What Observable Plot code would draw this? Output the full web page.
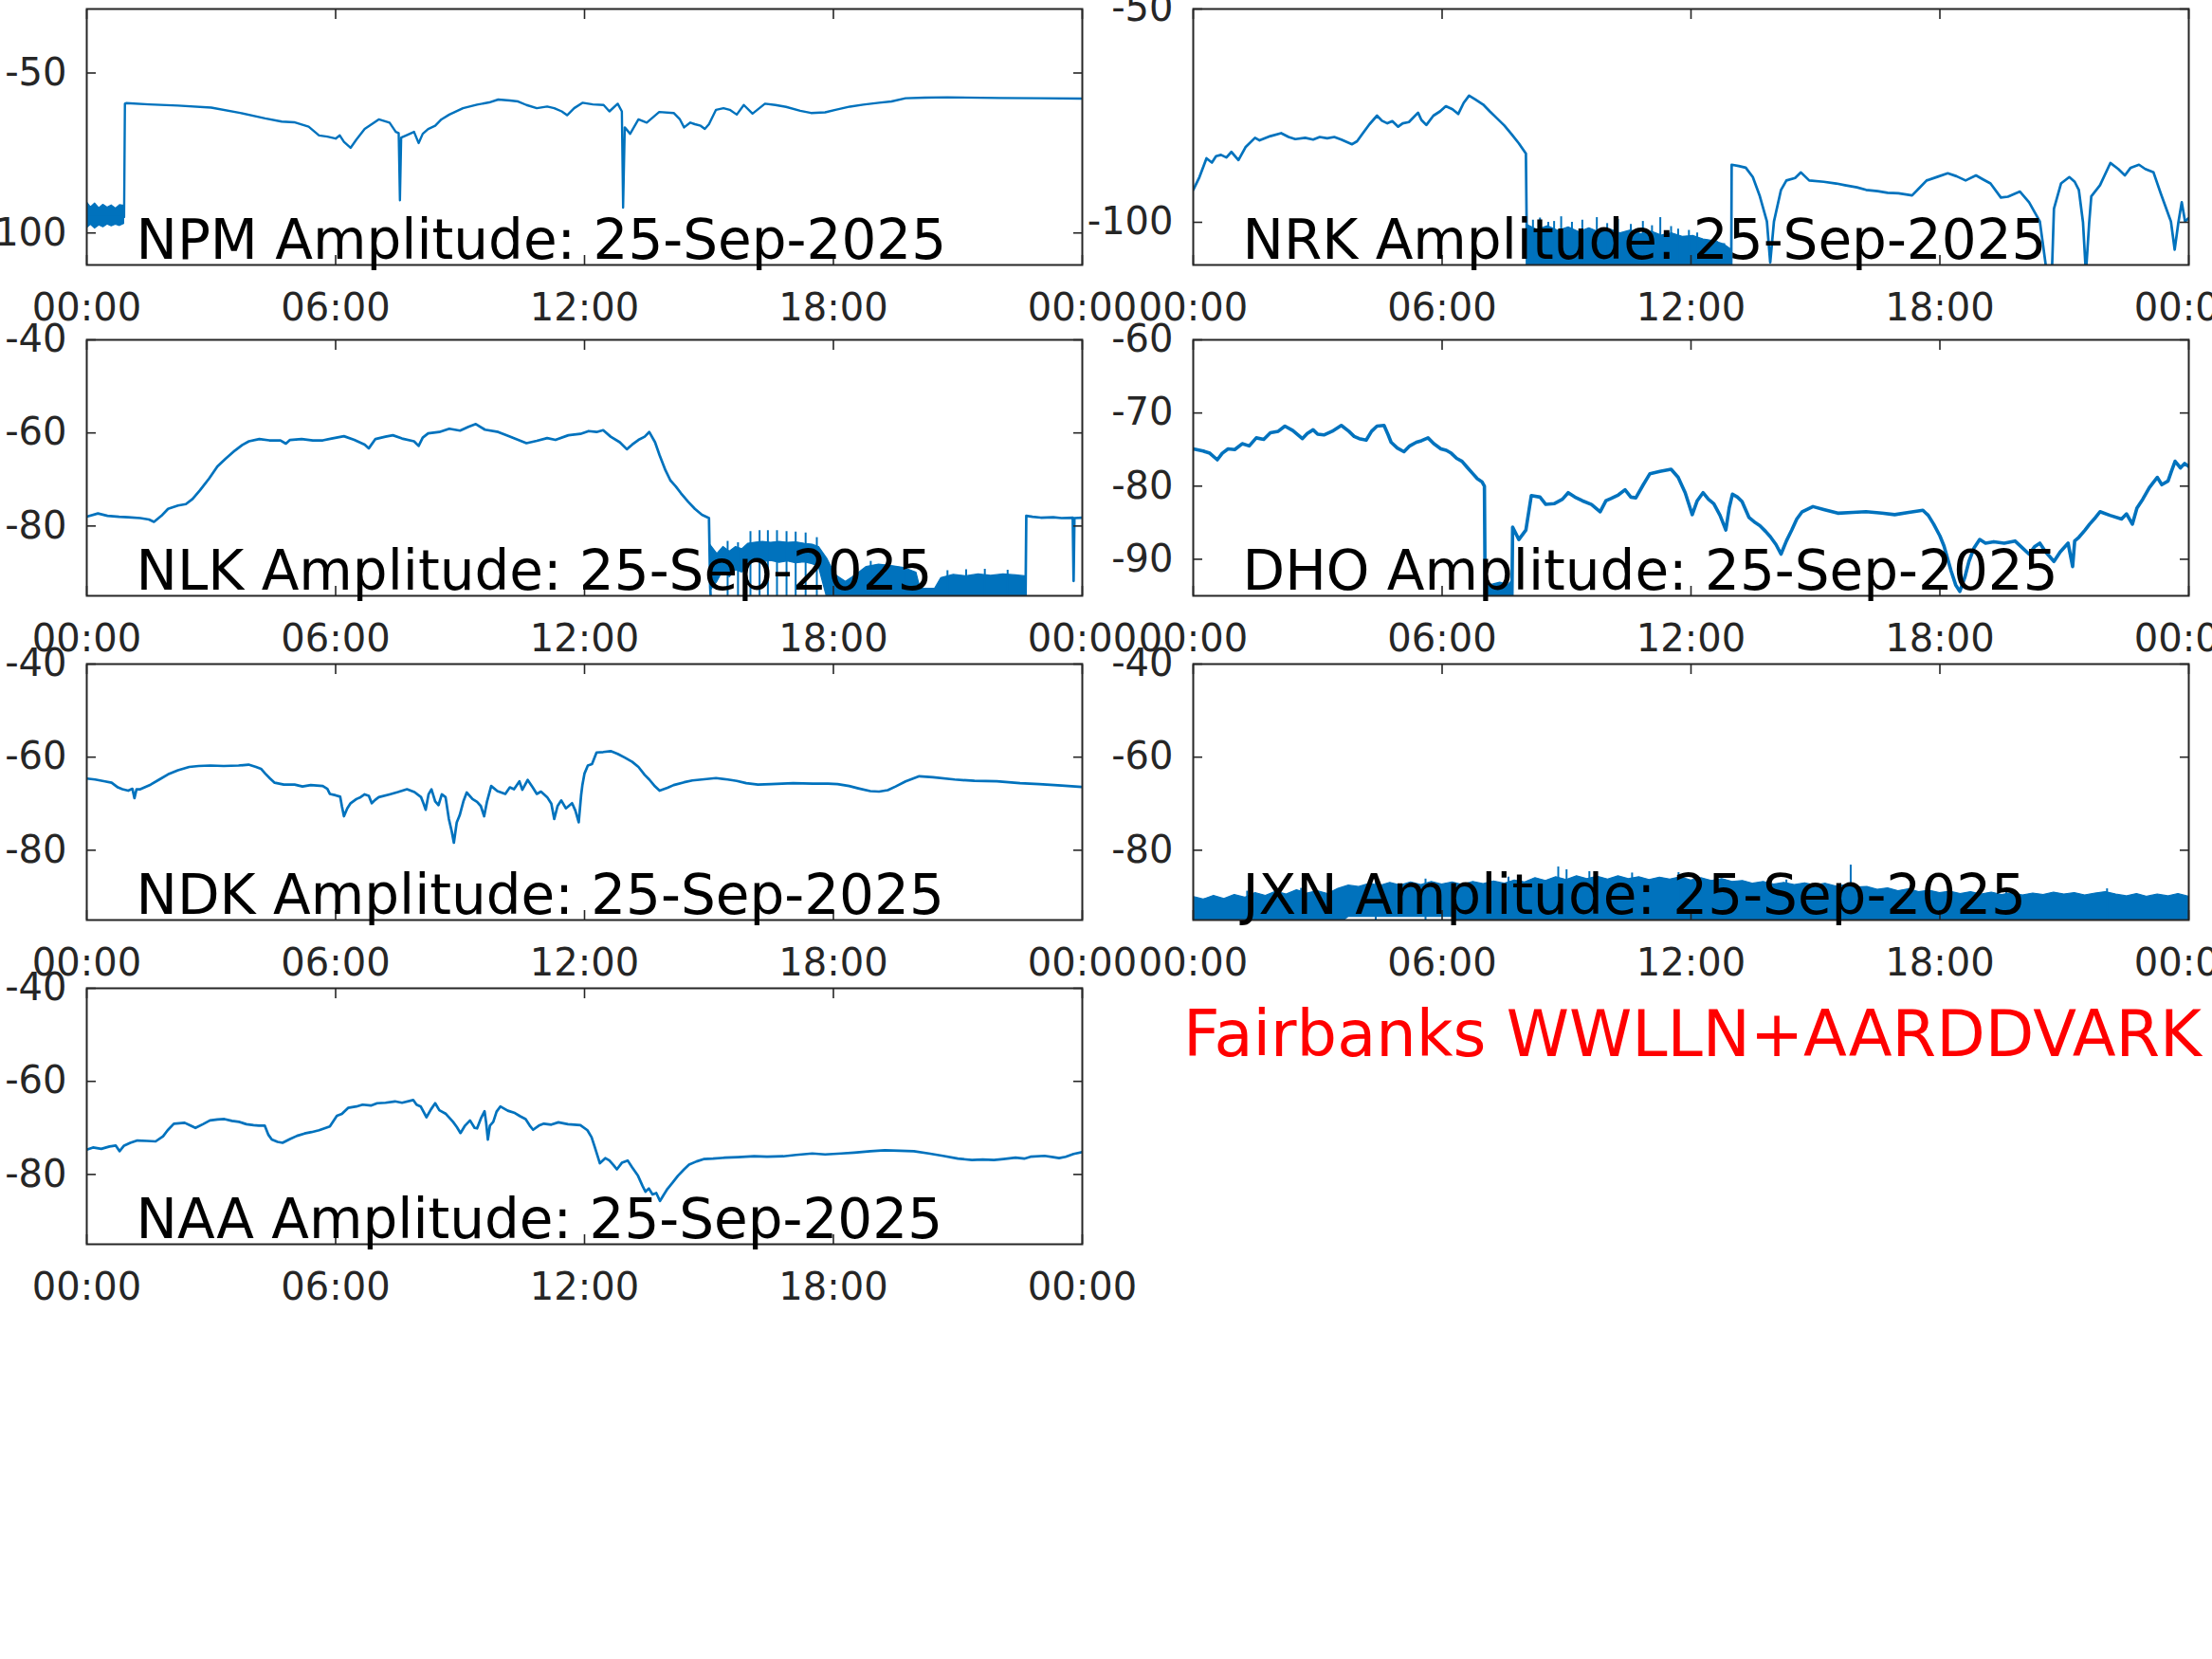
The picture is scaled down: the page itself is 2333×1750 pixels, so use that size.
<!DOCTYPE html>
<html>
<head>
<meta charset="utf-8">
<script src="https://cdn.jsdelivr.net/npm/d3@7"></script>
<script src="https://cdn.jsdelivr.net/npm/@observablehq/plot@0.6"></script>
<style>
html, body { margin: 0; padding: 0; background: #fff; }
#fig { position: relative; width: 2333px; height: 1750px; overflow: hidden; background: #fff; font-family: "DejaVu Sans"; }
</style>
</head>
<body>
<div id="fig"></div>
<script>
// ---------------- DATA ----------------
const xTickHours = [0, 6, 12, 18, 24];
const xTickLabels = ["00:00", "06:00", "12:00", "18:00", "00:00"];
const dateLabel = "25-Sep-2025";
const figureNote = "Fairbanks WWLLN+AARDDVARK";

// NPM
const npmHours = [0,0.9,0.92,0.95,1.5,2.2,3.0,3.7,4.3,4.7,5.0,5.35,5.6,5.8,6.0,6.1,6.2,6.36,6.5,6.7,7.04,7.3,7.45,7.52,7.55,7.58,7.7,7.89,8.0,8.1,8.23,8.4,8.55,8.74,9.07,9.41,9.7,9.92,10.2,10.4,10.6,10.85,11.1,11.27,11.45,11.58,11.75,11.95,12.2,12.46,12.6,12.8,12.9,12.93,12.97,13.1,13.3,13.5,13.8,14.15,14.3,14.4,14.55,14.66,14.8,14.9,15.0,15.17,15.35,15.5,15.67,15.84,16.05,16.35,16.6,16.86,17.2,17.46,17.8,18.05,18.4,18.72,19.1,19.4,19.74,20.2,20.75,22,23,24];
const npmAmp = [-95,-95,-59.6,-59.4,-59.8,-60.2,-60.8,-62.5,-64.2,-65.2,-65.4,-66.8,-69.5,-69.9,-70.5,-69.5,-71.5,-73.4,-70.8,-67.5,-64.5,-65.5,-68.4,-68.8,-89.8,-70.2,-69.5,-68.4,-71.9,-69,-67.5,-66.5,-64.5,-63,-61,-59.9,-59.2,-58.3,-58.6,-58.9,-60,-61,-60.5,-61,-62,-63.2,-61,-59.3,-59.8,-60,-62,-59.6,-62,-92.1,-67,-69,-64.5,-65.5,-62.2,-62.5,-64.5,-67,-65.5,-66,-66.5,-67.5,-66,-61.5,-61,-61.5,-63,-60,-62.7,-59.6,-60,-60.6,-61.8,-62.5,-62.3,-61.5,-60.5,-59.9,-59.3,-58.9,-57.9,-57.7,-57.6,-57.8,-57.9,-58];
const npmBandHours = [0,0.1,0.2,0.3,0.4,0.5,0.6,0.7,0.8,0.9];
const npmBandHi = [-90.3,-92,-90.8,-92.3,-91.2,-92.1,-91.4,-92.4,-91.3,-91.5];
const npmBandLo = [-98.5,-97.4,-98.6,-97.6,-98.2,-97.3,-97.9,-97.4,-97.8,-97.2];

// NRK
const nrkHours = [0,0.15,0.32,0.45,0.55,0.67,0.8,0.92,1.09,1.26,1.49,1.6,1.86,2.12,2.3,2.46,2.7,2.89,3.05,3.23,3.4,3.57,3.83,3.95,4.09,4.25,4.43,4.55,4.68,4.8,4.94,5.05,5.2,5.42,5.5,5.62,5.79,5.95,6.09,6.25,6.39,6.52,6.65,6.8,6.99,7.15,7.33,7.5,7.68,7.85,8.02,8.05,12.97,12.98,13.15,13.32,13.49,13.66,13.83,13.91,14.0,14.17,14.3,14.51,14.65,14.85,15.2,15.5,15.71,16.0,16.22,16.5,16.74,17.0,17.33,17.5,17.68,17.95,18.19,18.4,18.62,18.87,19.05,19.22,19.47,19.64,19.93,20.15,20.41,20.58,20.7,20.75,20.92,21.12,21.25,21.35,21.45,21.52,21.6,21.65,21.86,22.11,22.3,22.46,22.6,22.8,22.95,23.15,23.32,23.57,23.66,23.75,23.83,23.91,24];
const nrkAmp = [-92.4,-89.4,-85,-86,-84.5,-84.2,-84.8,-83.5,-85.4,-82.4,-80.2,-80.8,-79.8,-79.1,-80,-80.5,-80.2,-80.6,-80,-80.3,-80,-80.6,-81.7,-81,-79.1,-77,-75,-76.2,-76.8,-76.3,-77.6,-76.8,-76.5,-74.3,-76,-77.2,-75,-74,-72.8,-73.5,-74.6,-72,-70.3,-71.2,-72.4,-74,-75.7,-77.3,-79.4,-81.5,-83.9,-112,-112,-86.5,-86.8,-87.2,-89.4,-93.9,-99.8,-109.4,-99.8,-92.4,-90.2,-89.6,-88.3,-90.2,-90.5,-90.9,-91.3,-91.8,-92.4,-92.7,-93.1,-93.2,-93.7,-92,-90.2,-89.3,-88.5,-89.2,-90.2,-89,-90,-90.9,-94.2,-94,-92.8,-95.3,-99.8,-112,-112,-96.8,-90.9,-89.4,-90.5,-92.4,-100,-112,-100,-93.9,-91.3,-86.1,-87.5,-89,-87.2,-86.5,-87.5,-88.3,-93.1,-99.8,-106.4,-100,-95.3,-99.8,-99];
const nrkBandHours = [8.05,8.3,8.55,8.8,9.05,9.3,9.55,9.8,10.05,10.3,10.55,10.8,11.05,11.3,11.55,11.8,12.05,12.3,12.55,12.8,12.97];
const nrkBandHi = [-100.6,-101.8,-100.9,-102,-101.2,-102.3,-101.4,-102.4,-101.6,-102.6,-101.9,-102.8,-102.2,-103.1,-102.6,-103.4,-103.2,-104,-104.4,-105.2,-106.4];
const nrkBandLo = [-112,-112,-112,-112,-112,-112,-112,-112,-112,-112,-112,-112,-112,-112,-112,-112,-112,-112,-112,-112,-112];
const nrkSpikeHours = [8.19,8.36,8.56,8.7,8.87,9.13,9.38,9.73,9.98,10.24,10.55,10.84,11.06,11.26,11.52,11.69,11.95,12.15,12.38,12.63,12.8];
const nrkSpikeTop = [-99.5,-99,-100,-99.8,-98.7,-100,-99.5,-98.9,-100.3,-99.3,-100.5,-99.8,-100.8,-98.9,-101,-101.6,-101.9,-102.5,-104.2,-104.5,-105];

// NLK
const nlkHours = [0,0.27,0.5,0.78,1.0,1.29,1.5,1.62,1.8,1.96,2.2,2.39,2.55,2.73,2.95,3.15,3.35,3.57,3.75,3.91,4.16,4.4,4.67,4.8,4.9,5.18,5.45,5.69,5.9,6.2,6.45,6.7,6.8,6.96,7.2,7.38,7.6,7.89,8.0,8.1,8.23,8.5,8.74,9.0,9.2,9.38,9.6,9.92,10.2,10.4,10.6,10.85,11.1,11.3,11.61,11.9,12.1,12.29,12.45,12.63,12.85,13.02,13.15,13.3,13.45,13.56,13.7,13.81,13.95,14.07,14.2,14.32,14.5,14.66,14.83,15.0,15.03,15.05,22.63,22.65,22.8,23.0,23.3,23.5,23.77,23.79,23.81,24];
const nlkAmp = [-78,-77.3,-77.8,-78,-78.1,-78.3,-78.6,-79.1,-77.8,-76.3,-75.6,-75.3,-74.2,-72.3,-69.8,-67.2,-65.5,-63.8,-62.6,-61.8,-61.3,-61.6,-61.6,-62.3,-61.5,-61.3,-61.6,-61.6,-61.2,-60.7,-61.5,-62.5,-63.3,-61.3,-60.8,-60.5,-61.2,-61.8,-62.8,-61,-60.1,-59.8,-59.1,-59.5,-58.7,-58.1,-59.3,-59.8,-60.8,-61.5,-62.2,-61.7,-61.1,-61.5,-60.5,-60.2,-59.6,-59.8,-59.4,-60.8,-62,-63.5,-62.5,-61.5,-60.8,-59.8,-62,-64.8,-68,-70.2,-71.5,-72.9,-74.8,-76.3,-77.6,-78.3,-93,-97,-97,-77.8,-78,-78.2,-78.1,-78.3,-78.2,-91.8,-78.3,-78.2];
const nlkBandHours = [15.03,15.2,15.35,15.5,15.65,15.8,15.95,16.1,16.3,16.5,16.7,16.9,17.1,17.3,17.5,17.65,17.85,18.05,18.3,18.55,18.8,19.1,19.4,19.7,20.0,20.1,20.45,20.6,20.9,21.2,21.5,21.8,22.1,22.4,22.62];
const nlkBandHi = [-84,-86,-84.5,-85.5,-84.5,-85,-83.8,-83.6,-83.4,-83.6,-83.4,-83.6,-83.5,-83.8,-84,-84.5,-87,-90.5,-92,-90.5,-88.8,-88.3,-88.6,-89,-90,-93.5,-93.5,-91.2,-90.5,-90.8,-90.4,-90.7,-90.4,-90.6,-90.8];
const nlkBandLo = [-94,-92,-89.5,-91,-89.5,-90,-88.5,-87.6,-87.8,-87.5,-87.9,-87.6,-88,-87.8,-88.2,-88.8,-95.5,-96,-96,-96,-96,-96,-96,-96,-96,-96,-96,-96,-96,-96,-96,-96,-96,-96,-96];
const nlkSpikeHours = [15.45,15.7,16.0,16.22,16.42,16.64,16.87,17.09,17.33,17.6,18.9,19.3,19.75,20.75,21.2,21.65,22.2];
const nlkSpikeTop = [-83.3,-83.6,-81.2,-81,-81,-81,-81.2,-81.3,-81.5,-82.5,-87.6,-87.8,-88.2,-89.6,-89.4,-89.3,-89.5];

// DHO
const dhoHours = [0,0.24,0.4,0.58,0.7,0.84,1.0,1.18,1.35,1.52,1.7,1.86,2.05,2.21,2.4,2.63,2.75,2.89,3.0,3.15,3.35,3.57,3.75,3.88,4.0,4.17,4.3,4.43,4.6,4.7,4.77,4.92,5.08,5.22,5.38,5.5,5.66,5.8,5.97,6.1,6.22,6.35,6.48,6.6,6.74,6.85,6.96,7.02,7.04,7.68,7.7,7.85,8.02,8.15,8.36,8.5,8.7,8.9,9.04,9.2,9.38,9.6,9.81,9.95,10.07,10.25,10.41,10.55,10.67,10.85,11.01,11.25,11.52,11.69,11.86,11.95,12.03,12.15,12.29,12.42,12.55,12.7,12.84,12.92,13.0,13.12,13.23,13.4,13.55,13.66,13.8,13.91,14.05,14.17,14.3,14.43,14.55,14.68,14.94,15.2,15.54,15.9,16.22,16.6,16.91,17.25,17.59,17.72,17.85,18.0,18.1,18.27,18.38,18.48,18.6,18.7,18.82,18.96,19.1,19.3,19.55,19.81,20.0,20.15,20.28,20.41,20.55,20.75,20.9,21.09,21.2,21.25,21.35,21.5,21.61,21.75,21.86,22.1,22.38,22.5,22.64,22.75,22.89,23.05,23.24,23.35,23.5,23.58,23.67,23.8,23.9,24];
const dhoAmp = [-74.9,-75.2,-75.5,-76.4,-75.5,-74.9,-75,-74.2,-74.5,-73.4,-73.6,-72.7,-72.5,-71.8,-72.4,-73.5,-72.8,-72.3,-72.9,-73,-72.5,-71.7,-72.5,-73.2,-73.5,-73.7,-72.5,-71.8,-71.7,-73,-74,-74.8,-75.3,-74.5,-74,-73.8,-73.4,-74.2,-74.9,-75.1,-75.5,-76.2,-76.6,-77.4,-78.3,-79,-79.4,-80,-97,-97,-85.6,-87.3,-86,-81.3,-81.5,-82.5,-82.4,-81.8,-80.9,-81.5,-82,-82.5,-83.5,-82,-81.7,-81.2,-80.5,-81.5,-81.6,-79.8,-78.3,-78,-77.7,-78.8,-80.9,-82.5,-83.9,-82,-80.9,-81.8,-82.4,-84,-86,-83,-81.1,-81.5,-82.1,-84.3,-85,-85.4,-86.2,-86.9,-88,-89.3,-87.5,-86,-84.5,-83.5,-82.8,-83.2,-83.7,-83.6,-83.5,-83.7,-83.9,-83.6,-83.3,-84,-85.2,-86.8,-88.2,-91.6,-93.5,-94.4,-92.5,-90.3,-88.5,-87.3,-87.8,-87.6,-87.8,-87.5,-88.5,-89.3,-88.3,-87.8,-89,-90.3,-89,-87.8,-91,-87.5,-87,-86,-85.2,-84.3,-83.5,-84,-84.5,-83.8,-85.2,-83,-81.8,-80.2,-78.8,-79.8,-79.3,-78,-76.6,-77.5,-76.9,-77.3];
const dhoBandHours = [7.03,7.2,7.4,7.6,7.68];
const dhoBandHi = [-93,-93.5,-93.2,-93.5,-93];
const dhoBandLo = [-97,-97,-97,-97,-97];

// NDK
const ndkHours = [0,0.2,0.44,0.6,0.75,0.86,1.0,1.1,1.15,1.2,1.29,1.54,1.75,1.96,2.2,2.47,2.7,2.98,3.3,3.66,3.9,4.08,4.2,4.3,4.42,4.53,4.75,5.01,5.2,5.4,5.69,5.8,5.86,6.0,6.11,6.15,6.2,6.28,6.36,6.5,6.6,6.7,6.8,6.87,6.95,7.04,7.3,7.5,7.72,7.9,8.06,8.12,8.17,8.24,8.31,8.4,8.48,8.56,8.65,8.73,8.8,8.85,8.92,8.99,9.08,9.16,9.3,9.41,9.5,9.58,9.65,9.75,9.9,10.09,10.2,10.3,10.43,10.5,10.63,10.75,10.85,10.95,11.1,11.2,11.27,11.35,11.44,11.55,11.7,11.78,11.86,11.92,11.95,12.0,12.08,12.18,12.29,12.45,12.63,12.8,12.97,13.15,13.3,13.45,13.56,13.7,13.81,14.0,14.15,14.4,14.6,14.83,15.17,15.45,15.67,15.9,16.18,16.5,17.03,17.5,17.87,18.1,18.38,18.6,18.89,19.1,19.31,19.5,19.74,20.07,20.4,20.92,21.4,21.94,22.5,22.96,23.5,24];
const ndkAmp = [-64.6,-64.8,-65.2,-65.5,-66.5,-66.9,-67.2,-66.8,-68.8,-66.9,-66.9,-65.9,-64.8,-63.7,-62.8,-62.1,-61.9,-61.8,-61.9,-61.8,-61.6,-62.1,-62.5,-63.5,-64.6,-65.5,-65.9,-65.9,-66.3,-66,-66.2,-66.8,-67.9,-68.2,-68.5,-70.5,-72.7,-71,-69.9,-69,-68.6,-68,-68.3,-69.9,-69.2,-68.6,-68,-67.5,-66.9,-67.5,-68.6,-70,-71.3,-68,-66.9,-69.5,-70.3,-68,-68.6,-73.3,-76,-78.4,-74,-72.5,-69.5,-67.6,-69,-69.6,-70.5,-72.7,-69.5,-66.2,-67.3,-67.9,-66.5,-66.9,-65.2,-67,-64.9,-66.5,-67.9,-67.4,-68.6,-70,-73.3,-70.5,-69.3,-71,-69.9,-71.5,-74,-68,-65.9,-63.5,-61.8,-61.5,-59,-58.9,-58.7,-59.3,-60.1,-61,-62.1,-63.8,-64.8,-66.3,-67.2,-66.6,-66,-65.4,-65,-64.8,-64.5,-64.8,-65.1,-65.6,-65.9,-65.8,-65.6,-65.7,-65.7,-65.8,-66.2,-66.7,-67.3,-67.4,-67.1,-66.3,-65.2,-64.1,-64.3,-64.8,-65.1,-65.2,-65.6,-65.8,-66.1,-66.4];

// JXN (noise band only)
const jxnBandHours = [0,0.25,0.5,0.75,1,1.25,1.5,1.75,2,2.25,2.5,2.75,3,3.25,3.5,3.75,4,4.25,4.5,4.75,5,5.25,5.5,5.75,6,6.25,6.5,6.75,7,7.25,7.5,7.75,8,8.25,8.5,8.75,9,9.25,9.5,9.75,10,10.25,10.5,10.75,11,11.25,11.5,11.75,12,12.25,12.5,12.75,13,13.25,13.5,13.75,14,14.25,14.5,14.75,15,15.25,15.5,15.75,16,16.25,16.5,16.75,17,17.25,17.5,17.75,18,18.25,18.5,18.75,19,19.25,19.5,19.75,20,20.25,20.5,20.75,21,21.25,21.5,21.75,22,22.25,22.5,22.75,23,23.25,23.5,23.75,24];
const jxnBandHi = [-90,-90.6,-89.8,-90.5,-89.6,-90.2,-89.2,-89.8,-88.9,-89.5,-88.6,-89.3,-88.8,-89.4,-88.3,-87.6,-87.9,-87.2,-87.7,-87,-87.6,-86.9,-87.5,-86.8,-87.4,-86.9,-87.5,-86.8,-87.3,-86.7,-87.2,-86.5,-86.9,-86,-86.6,-85.8,-86.4,-85.6,-86.2,-85.7,-86.3,-85.6,-86.2,-85.8,-86.4,-85.9,-86.3,-85.8,-86.5,-86,-86.6,-86.2,-86.8,-86.6,-87.2,-86.8,-87.4,-87,-87.5,-87.1,-87.6,-87.2,-87.8,-87.5,-88,-87.9,-88.5,-88.2,-88.8,-88.4,-89,-88.7,-89.2,-88.9,-89.4,-89,-89.5,-89.1,-89.6,-89.2,-89.7,-89.3,-89.6,-89.1,-89.5,-89.2,-89.7,-89.3,-89,-89.5,-89.9,-89.4,-90,-89.5,-89.9,-89.4,-90];
const jxnBandLo = [-96,-96,-96,-96,-96,-96,-96,-96,-96,-96,-96,-96,-96,-96,-96,-94.3,-94.3,-94.3,-94.3,-94.3,-94.3,-94.3,-94.3,-94.3,-94.3,-94.3,-96,-96,-96,-96,-96,-96,-96,-96,-96,-96,-96,-96,-96,-96,-96,-96,-96,-96,-96,-96,-96,-96,-96,-96,-96,-96,-96,-96,-96,-96,-96,-96,-96,-96,-96,-96,-96,-96,-96,-96,-96,-96,-96,-96,-96,-96,-96,-96,-96,-96,-96,-96,-96,-96,-96,-96,-96,-96,-96,-96,-96,-96,-96,-96,-96,-96,-96,-96,-96,-96,-96];
const jxnSpikeHours = [1.3,2.6,4.4,5.6,7.6,8.8,9.0,9.55,10.58,11.7,12.8,14.3,15.85,17.3,19.6,22.03];
const jxnSpikeTop = [-88.8,-88.2,-86.5,-86.2,-85.8,-83.6,-84.2,-84.6,-84.9,-84.8,-86.3,-86.4,-83.2,-87.7,-88.6,-88.3];

// NAA
const naaHours = [0,0.15,0.35,0.55,0.7,0.79,0.9,1.05,1.22,1.45,1.66,1.84,1.95,2.1,2.36,2.5,2.62,2.8,2.97,3.15,3.32,3.5,3.67,3.85,4.02,4.15,4.29,4.38,4.46,4.6,4.72,4.9,5.07,5.25,5.42,5.6,5.86,6.03,6.15,6.3,6.5,6.65,6.85,7.0,7.2,7.43,7.6,7.87,7.95,8.05,8.19,8.3,8.4,8.5,8.66,8.83,8.92,9.01,9.12,9.24,9.35,9.41,9.5,9.59,9.63,9.67,9.72,9.8,9.88,9.97,10.15,10.32,10.45,10.58,10.68,10.76,10.9,11.02,11.2,11.37,11.6,11.9,12.07,12.17,12.25,12.37,12.5,12.6,12.7,12.78,12.9,13.04,13.15,13.29,13.4,13.47,13.55,13.64,13.73,13.82,13.9,14.0,14.12,14.25,14.4,14.52,14.7,14.87,15.1,15.39,15.7,16.09,16.4,16.79,17.1,17.49,17.8,18.19,18.5,18.89,19.24,19.6,19.94,20.3,20.64,21.0,21.34,21.6,21.87,22.1,22.39,22.6,22.75,23.09,23.3,23.44,23.6,23.79,24];
const naaAmp = [-74.7,-74.2,-74.5,-74,-73.8,-75,-73.8,-73.2,-72.7,-72.8,-72.9,-71.8,-70.5,-69.1,-68.9,-69.5,-70,-69.2,-68.4,-68.2,-68.1,-68.5,-68.7,-69.2,-69.4,-69.5,-69.5,-71.5,-72.5,-73,-73.2,-72.4,-71.7,-71.2,-70.9,-70.5,-69.7,-67.4,-67,-65.7,-65.4,-65,-65.2,-64.7,-64.6,-64.3,-64.6,-64,-65,-65.4,-67.7,-66,-64.7,-66.2,-67,-68.7,-69.8,-71.1,-69.5,-68.4,-70,-70.1,-68,-66.4,-69,-72.5,-69.5,-68.7,-66.5,-65.4,-66.3,-66.8,-67.5,-68.1,-69.5,-70.4,-69.5,-69.1,-69.3,-68.8,-69.2,-69.4,-70.5,-72,-74.2,-77.6,-76.5,-77,-78,-78.9,-77.5,-77,-78.5,-80.3,-82.5,-83.7,-83,-84.3,-84,-85.7,-84.5,-83.1,-81.8,-80.3,-78.9,-77.9,-77.2,-76.7,-76.6,-76.4,-76.3,-76.1,-76.2,-76.1,-75.8,-75.5,-75.7,-75.5,-75.3,-75,-74.8,-74.9,-75,-75.5,-76,-76.6,-76.9,-76.8,-76.9,-76.7,-76.4,-76.6,-76.2,-76,-76.3,-76.5,-76.2,-75.6,-75.2];

// y-axis domains and ticks per station
const npmYDomain = [-110, -30], npmYTicks = [-100, -50];
const nrkYDomain = [-110, -50], nrkYTicks = [-100, -50];
const nlkYDomain = [-95, -40],  nlkYTicks = [-80, -60, -40];
const dhoYDomain = [-95, -60],  dhoYTicks = [-90, -80, -70, -60];
const ndkYDomain = [-95, -40],  ndkYTicks = [-80, -60, -40];
const jxnYDomain = [-95, -40],  jxnYTicks = [-80, -60, -40];
const naaYDomain = [-95, -40],  naaYTicks = [-80, -60, -40];

// ---------------- DRAWING ----------------
const BLUE = "#0072BD";
const AX = "#262626";
const rowsOf = (h, v) => h.map((x, i) => ({h: x, v: v[i]}));
const bandOf = (h, lo, hi) => h.map((x, i) => ({h: x, lo: lo[i], hi: hi[i]}));

const FW = 1050, FH = 270;        // frame size in px
const ML = 91, MR = 60, MT = 30, MB = 80;

const panels = [
  {name: "NPM", line: rowsOf(npmHours, npmAmp), band: bandOf(npmBandHours, npmBandLo, npmBandHi), spikes: null, yDomain: npmYDomain, yTicks: npmYTicks, fx: 91,   fy: 9,    sw: 2.4},
  {name: "NRK", line: rowsOf(nrkHours, nrkAmp), band: bandOf(nrkBandHours, nrkBandLo, nrkBandHi), spikes: rowsOf(nrkSpikeHours, nrkSpikeTop), yDomain: nrkYDomain, yTicks: nrkYTicks, fx: 1258, fy: 9, sw: 2.7},
  {name: "NLK", line: rowsOf(nlkHours, nlkAmp), band: bandOf(nlkBandHours, nlkBandLo, nlkBandHi), spikes: rowsOf(nlkSpikeHours, nlkSpikeTop), yDomain: nlkYDomain, yTicks: nlkYTicks, fx: 91, fy: 358, sw: 2.7},
  {name: "DHO", line: rowsOf(dhoHours, dhoAmp), band: bandOf(dhoBandHours, dhoBandLo, dhoBandHi), spikes: null, yDomain: dhoYDomain, yTicks: dhoYTicks, fx: 1258, fy: 358,  sw: 3.6},
  {name: "NDK", line: rowsOf(ndkHours, ndkAmp), band: null, spikes: null, yDomain: ndkYDomain, yTicks: ndkYTicks, fx: 91,   fy: 700,  sw: 2.7},
  {name: "JXN", line: null, band: bandOf(jxnBandHours, jxnBandLo, jxnBandHi), spikes: rowsOf(jxnSpikeHours, jxnSpikeTop), yDomain: jxnYDomain, yTicks: jxnYTicks, fx: 1258, fy: 700, sw: 2.7},
  {name: "NAA", line: rowsOf(naaHours, naaAmp), band: null, spikes: null, yDomain: naaYDomain, yTicks: naaYTicks, fx: 91,   fy: 1042, sw: 2.7}
];

const fig = document.getElementById("fig");

for (const p of panels) {
  const marks = [];
  if (p.band) marks.push(Plot.areaY(p.band, {x: "h", y1: "lo", y2: "hi", fill: BLUE, stroke: BLUE, strokeWidth: 1.2, clip: true}));
  if (p.spikes) marks.push(Plot.ruleX(p.spikes, {x: "h", y1: p.yDomain[0] - 2, y2: "v", stroke: BLUE, strokeWidth: 2, clip: true}));
  if (p.line) marks.push(Plot.line(p.line, {x: "h", y: "v", stroke: BLUE, strokeWidth: p.sw, clip: true}));
  marks.push(
    Plot.frame({stroke: AX, strokeWidth: 2}),
    Plot.axisX({anchor: "top", ticks: xTickHours, tickSize: -10, tickFormat: () => "", label: null, strokeWidth: 1.6}),
    Plot.axisY({anchor: "right", ticks: p.yTicks, tickSize: -10, tickFormat: () => "", label: null, strokeWidth: 1.6}),
    Plot.axisX({anchor: "bottom", ticks: xTickHours, tickSize: -10, tickPadding: 40,
      tickFormat: h => xTickLabels[xTickHours.indexOf(h)], label: null, fontSize: 40, strokeWidth: 1.6}),
    Plot.axisY({anchor: "left", ticks: p.yTicks, tickSize: -10, tickPadding: 31,
      tickFormat: d => String(d), label: null, fontSize: 40, strokeWidth: 1.6}),
    Plot.text([`${p.name} Amplitude: ${dateLabel}`], {
      frameAnchor: "bottom-left", dx: 52, dy: -7, textAnchor: "start", lineAnchor: "bottom",
      fontSize: 58, fill: "#000"
    })
  );
  const chart = Plot.plot({
    width: ML + FW + MR, height: MT + FH + MB,
    marginLeft: ML, marginRight: MR, marginTop: MT, marginBottom: MB,
    style: {background: "transparent", overflow: "visible", fontFamily: "DejaVu Sans", color: AX, maxWidth: "none"},
    x: {domain: [0, 24], axis: null},
    y: {domain: p.yDomain, axis: null},
    marks
  });
  chart.style.position = "absolute";
  chart.style.left = (p.fx - ML) + "px";
  chart.style.top = (p.fy - MT) + "px";
  fig.appendChild(chart);
}

// Red annotation text
const note = d3.select(fig).append("svg")
  .attr("width", 2333).attr("height", 1750)
  .style("position", "absolute").style("left", "0px").style("top", "0px")
  .style("pointer-events", "none");
note.append("text")
  .attr("x", 1248).attr("y", 1114)
  .attr("font-family", "DejaVu Sans").attr("font-size", 67)
  .attr("fill", "#FF0000")
  .text(figureNote);
</script>
</body>
</html>
